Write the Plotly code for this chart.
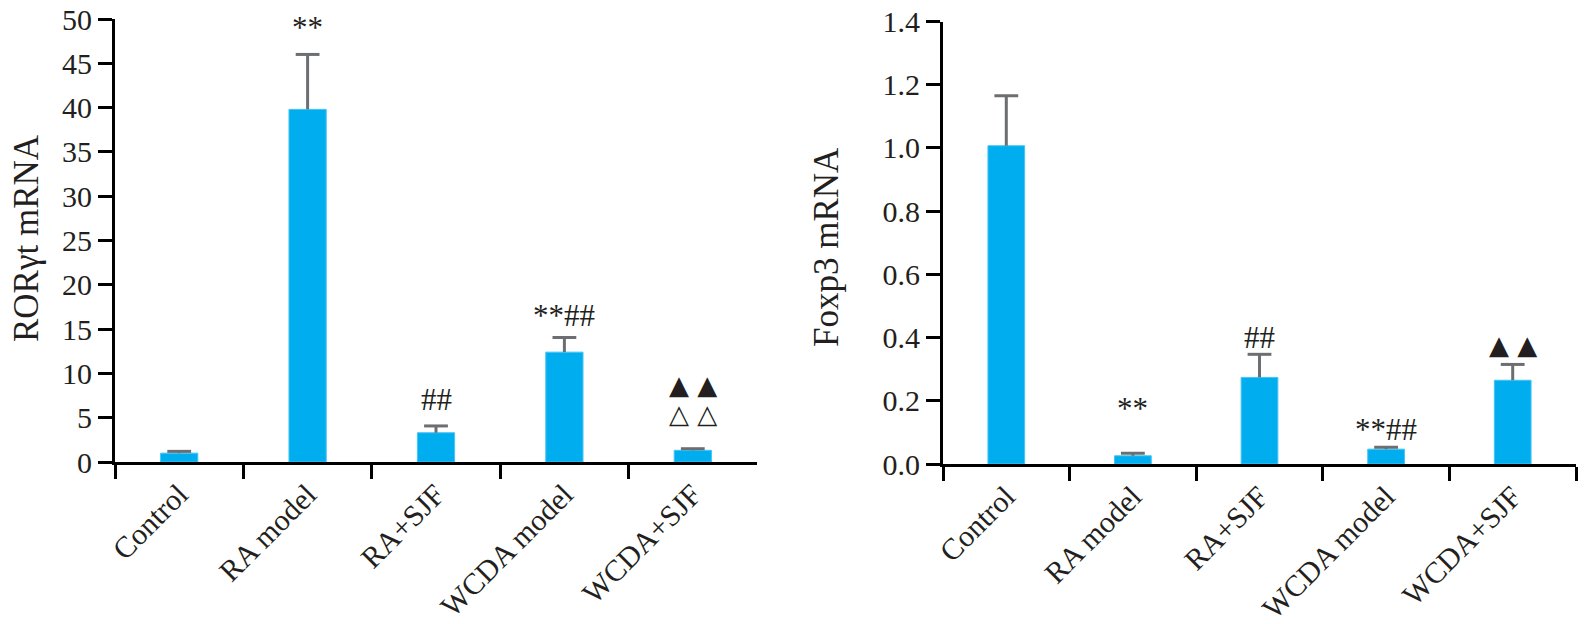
import plotly.graph_objects as go

groups = ["Control", "RA model", "RA+SJF", "WCDA model", "WCDA+SJF"]

# ROR-gamma-t mRNA (left panel)
ror_mean = [1.0, 39.8, 3.3, 12.4, 1.32]
ror_err = [0.2, 6.2, 0.77, 1.65, 0.18]
ror_marks = ["", "**", "##", "**##", ""]
ror_mark_y = [0, 49.0, 7.1, 16.5, 0]

# Foxp3 mRNA (right panel)
foxp3_mean = [1.007, 0.026, 0.274, 0.047, 0.265]
foxp3_err = [0.158, 0.008, 0.073, 0.006, 0.05]
foxp3_marks = ["", "**", "##", "**##", ""]
foxp3_mark_y = [0, 0.175, 0.40, 0.108, 0]

# triangle markers (symbol text, group, y) per panel
ror_tri = [("▲ ▲", "WCDA+SJF", 8.7), ("△ △", "WCDA+SJF", 5.4)]
foxp3_tri = [("▲ ▲", "WCDA+SJF", 0.378)]

# page body has an 8px margin, so the figure is drawn 8px smaller and
# pixel positions below are measured from the page corner minus 8
OFF = 8
W, H = 1587 - OFF, 624 - OFF
BAR = "#00aeef"
ERR = "#6d6e71"
INK = "#231f20"
FONT = "Liberation Serif"


def px_x(p):
    return (p - OFF) / W


def px_y(p):
    return 1 - (p - OFF) / H


def add_panel(fig, means, errs, xa, ya):
    fig.add_trace(go.Bar(
        x=groups, y=means, xaxis=xa, yaxis=ya,
        marker=dict(color=BAR, line=dict(color="#47c3f2", width=1)),
        width=0.29, showlegend=False))
    # upper error bar only: stem down from the cap, no lower cap
    tops = [m + e for m, e in zip(means, errs)]
    fig.add_trace(go.Scatter(
        x=groups, y=tops, xaxis=xa, yaxis=ya, mode="markers",
        marker=dict(symbol="line-ew", size=17, color=ERR,
                    line=dict(color=ERR, width=3)),
        error_y=dict(type="data", symmetric=False, array=[0] * len(errs),
                     arrayminus=errs, color=ERR, thickness=3, width=0),
        showlegend=False))


fig = go.Figure()
add_panel(fig, ror_mean, ror_err, "x", "y")
add_panel(fig, foxp3_mean, foxp3_err, "x2", "y2")

axis_common = dict(
    showline=True, linewidth=3, linecolor="black",
    ticks="outside", ticklen=14, tickwidth=3, tickcolor="black",
    showgrid=False, zeroline=False, automargin=False,
    ticklabeloverflow="allow",
    tickfont=dict(family=FONT, size=30, color=INK),
)

fig.update_layout(
    width=W, height=H,
    margin=dict(l=0, r=0, t=0, b=0, autoexpand=False),
    paper_bgcolor="white", plot_bgcolor="white",
    bargap=0.71,
    xaxis=dict(domain=[px_x(115), px_x(757)], anchor="y", type="category",
               tickson="boundaries", tickangle=-45, **axis_common),
    yaxis=dict(domain=[px_y(462), px_y(19)], anchor="x",
               range=[0, 50], dtick=5, **axis_common),
    xaxis2=dict(domain=[px_x(943), px_x(1576)], anchor="y2", type="category",
                tickson="boundaries", tickangle=-45, **axis_common),
    yaxis2=dict(domain=[px_y(464), px_y(21.5)], anchor="x2",
                range=[0, 1.4], dtick=0.2, tickformat=".1f", **axis_common),
)

annos = []
for g, t, yv in zip(groups, ror_marks, ror_mark_y):
    if t:
        annos.append(dict(x=g, y=yv, xref="x", yref="y", text=t, showarrow=False,
                          font=dict(family=FONT, size=31, color=INK)))
for g, t, yv in zip(groups, foxp3_marks, foxp3_mark_y):
    if t:
        annos.append(dict(x=g, y=yv, xref="x2", yref="y2", text=t, showarrow=False,
                          font=dict(family=FONT, size=31, color=INK)))
for t, g, yv in ror_tri:
    annos.append(dict(x=g, y=yv, xref="x", yref="y", text=t, showarrow=False,
                      font=dict(family="DejaVu Sans", size=26, color=INK)))
for t, g, yv in foxp3_tri:
    annos.append(dict(x=g, y=yv, xref="x2", yref="y2", text=t, showarrow=False,
                      font=dict(family="DejaVu Sans", size=26, color=INK)))

# y-axis titles
annos.append(dict(x=px_x(26), y=px_y(238), xref="paper", yref="paper",
                  xanchor="center", yanchor="middle",
                  text="RORγt mRNA", textangle=-90, showarrow=False,
                  font=dict(family=FONT, size=35, color=INK)))
annos.append(dict(x=px_x(826), y=px_y(247), xref="paper", yref="paper",
                  xanchor="center", yanchor="middle",
                  text="Foxp3 mRNA", textangle=-90, showarrow=False,
                  font=dict(family=FONT, size=35, color=INK)))
fig.update_layout(annotations=annos)

fig.write_html("out.html")
